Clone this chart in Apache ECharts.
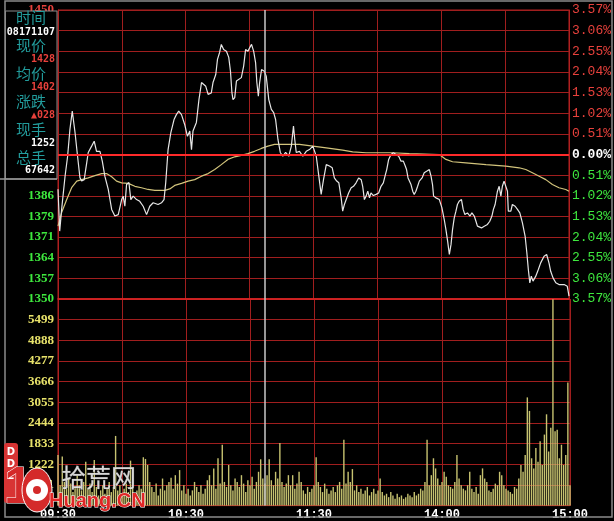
<!DOCTYPE html>
<html><head><meta charset="utf-8">
<script src="https://cdn.jsdelivr.net/npm/echarts@6/dist/echarts.min.js"></script>
<style>html,body{margin:0;padding:0;background:#000;}#c{width:614px;height:521px;}</style>
</head><body><div id="c"></div>
<script>
// ---- data ----
const prevClose = 1400;
const priceMin = 1350, priceMax = 1450;
const volMax = 6110, volStep = 611;
const cursorMinute = 97; // 11:07
const timeTickPos = [0, 60, 120, 180, 240];
const timeTickLabel = ['09:30', '10:30', '11:30', '14:00', '15:00'];
const infoLabels = ['时间', '现价', '均价', '涨跌', '现手', '总手'];
const infoValues = ['08171107', '1428', '1402', '▲028', '1252', '67642'];

// [minute since 09:30 (trading minutes), price]
const pricePoints = [[0,1388],[0.8,1373.5],[1.7,1381],[3.3,1392.4],[4.5,1399.3],[5.6,1408.7],[6.7,1415],[8,1407.6],[9.2,1399.3],[10.3,1392],[11.1,1390.8],[12.3,1391.3],[13.5,1397.2],[14.2,1400.7],[15.8,1402.9],[17,1404.6],[18.1,1401.1],[19.7,1401.1],[20.8,1397.7],[22,1392.5],[23.6,1387.9],[25.2,1381],[26.7,1378.7],[28.3,1379.2],[29.9,1384.4],[30.6,1385.6],[31.4,1382.1],[32.2,1389.6],[33.3,1390.3],[34.2,1384.4],[35.3,1385.6],[36.9,1384.4],[38.4,1383.8],[40,1382.1],[41.6,1379.2],[43.1,1382.1],[44.7,1383.3],[47,1382.7],[48.6,1383.3],[49.8,1384.4],[50.6,1390.3],[51.7,1401.7],[53,1407.6],[54.5,1412.1],[55.6,1413.8],[56.7,1415],[58,1413.8],[59.5,1410.4],[60.8,1406.3],[61.9,1408.1],[62.7,1401.7],[63.4,1408.1],[65,1411.1],[66.2,1419],[67.4,1424.9],[68.1,1425.4],[69.4,1423.6],[70.5,1420.8],[71.3,1420.2],[72,1421.3],[72.8,1424.9],[74.1,1427.7],[74.9,1432.9],[75.9,1435.3],[76.7,1438.1],[77.8,1436.3],[79.1,1435.7],[80.2,1433.6],[81,1428.8],[81.7,1421.3],[82.2,1419],[83,1419.7],[83.8,1425.4],[84.5,1426],[86.1,1426.6],[87.2,1430.6],[88.1,1436.3],[89.2,1435.7],[90,1436.9],[90.9,1438.1],[91.9,1435.7],[92.8,1431.8],[93.4,1424.9],[94.1,1420.2],[94.7,1424.9],[95.6,1429.4],[96.9,1428.8],[97.8,1427.1],[99,1419],[100.2,1415.6],[101.3,1414.5],[102.2,1412.1],[103.3,1405.2],[104.4,1400.7],[105.6,1399.4],[106.9,1400.7],[108.4,1399.4],[109.6,1402.9],[110.6,1409.8],[111.2,1405.2],[111.9,1400.7],[113.4,1401.1],[115,1399.4],[116.6,1401.1],[118.1,1401.7],[119.7,1402.9],[120.5,1402.9],[121.3,1399.4],[122.5,1392.5],[123.6,1386.2],[124.7,1391.3],[126,1396.5],[127.5,1396],[128.8,1395.4],[129.8,1391.9],[130.9,1390.8],[131.9,1390.2],[133,1385],[133.7,1380.4],[134.5,1382.7],[135.3,1382.1],[136.5,1386.7],[137.7,1388.5],[138.8,1389],[140,1390.2],[141.2,1391.9],[142.4,1391.3],[143.1,1389],[143.9,1384.4],[144.7,1385.6],[145.5,1387.3],[146.3,1385],[147,1386.7],[148.1,1385.8],[149.4,1386.2],[150.6,1386.7],[151.7,1389],[152.8,1390.2],[153.8,1393.1],[154.4,1394.8],[155.3,1398.3],[156.4,1400],[157.5,1400.6],[158.8,1400],[160,1399.4],[161.1,1397.7],[162.2,1397.7],[163.1,1396],[163.7,1394.8],[164.4,1391.9],[165,1391.3],[165.8,1389.6],[166.6,1387.3],[167.3,1386.2],[168.1,1387.3],[168.9,1389],[169.7,1390.8],[171,1391.9],[172,1393.7],[173.1,1394.2],[174.4,1394.8],[175.2,1392.5],[175.9,1389.6],[176.4,1385.6],[176.7,1386.2],[177.5,1385],[178.3,1385.6],[179.1,1384.4],[180.3,1381.6],[181.4,1377.5],[182.2,1374],[183,1370],[183.8,1365.4],[184.6,1368.9],[185.3,1374],[186.1,1378.1],[186.9,1380.4],[187.6,1382.7],[188.4,1383.8],[189.5,1384.4],[190.3,1381],[191.1,1379.2],[192.3,1379.8],[193.5,1378.7],[194.4,1379.8],[195.5,1378.7],[196.3,1376.9],[197,1375.2],[197.8,1375.8],[198.9,1374.6],[200.2,1375.2],[201.7,1375.8],[202.8,1376.9],[203.8,1378.7],[204.5,1381],[205.3,1382.7],[206.4,1387.3],[207.2,1389],[208,1385.6],[208.7,1389],[209.5,1390.8],[210.3,1390.2],[211.1,1387.3],[211.5,1380.4],[212.7,1380.4],[213.4,1382.7],[214.7,1382.1],[215.8,1381],[216.9,1379.8],[218.1,1376.4],[219.4,1371.7],[220.2,1366],[220.9,1360.2],[221.6,1355.6],[222.3,1357.9],[223.1,1356.2],[224.4,1357.9],[225.6,1360.2],[226.7,1362.5],[228.3,1364.8],[229.5,1365.4],[230.6,1362.5],[231.4,1359.6],[232.5,1357.3],[233.8,1355.6],[235.3,1355],[237.7,1355],[239.2,1354.4],[240,1351]];

// [minute, average price]
const avgPoints = [[0,1375.2],[1.7,1379.9],[4.1,1384.4],[6.4,1388.5],[8.8,1390.8],[11.1,1391.3],[14.2,1391.9],[17.3,1392.7],[20.5,1393.4],[22.8,1393.4],[25.2,1392.3],[27.5,1390.8],[29.9,1390.2],[33,1390],[36.1,1389],[39.2,1388.5],[42.3,1387.9],[45.5,1387.6],[50.2,1387.6],[52.5,1388.1],[54.8,1389.3],[58,1390],[61.1,1390.8],[64.2,1391.3],[67.4,1392.5],[70.5,1393.4],[73.6,1394.8],[76.7,1396.5],[79.8,1398.3],[83,1399.2],[86.1,1399.7],[89.2,1400.3],[92.3,1401.1],[95.5,1402.1],[98.6,1402.9],[101.7,1403.5],[108,1403.5],[113.4,1403.5],[119.7,1402.9],[126,1402.3],[133.7,1401.5],[138.4,1400.9],[144.7,1400.6],[157.2,1400.6],[165,1400.3],[179.1,1400],[182.2,1398.3],[185.3,1397.5],[191.6,1397.1],[201,1396.5],[210.3,1396],[216.6,1395.4],[219.7,1394.8],[222.8,1393.7],[226,1392.5],[229.1,1391.3],[232.2,1389.6],[235.3,1388.5],[238.5,1387.9],[240,1387.3]];

// volume per minute, index 0..240
const volume = [
1500,600,1450,700,500,800,650,400,550,900,
600,450,700,1300,500,650,400,1350,550,300,
450,600,350,500,700,400,550,2060,450,600,
350,500,650,400,1330,550,300,450,600,500,
1430,1380,1200,700,550,400,650,300,500,800,
450,600,700,820,500,900,650,1050,450,600,
350,500,300,450,700,550,400,600,350,500,
750,900,600,1100,500,1400,650,1800,700,550,
1200,600,450,800,700,550,900,650,400,750,
600,850,500,700,1000,1370,800,650,900,1370,
750,600,1000,800,1850,700,550,650,900,600,
900,500,650,1000,700,450,350,550,400,500,
600,1430,700,550,400,650,500,350,450,550,
400,600,700,500,1950,650,1000,700,1080,450,
600,400,500,350,450,550,300,400,500,350,
450,800,400,300,350,250,400,300,200,350,
250,300,200,250,350,300,250,400,300,350,
500,450,700,1950,600,900,1400,1100,800,600,
700,1000,850,600,550,500,700,1500,800,600,
500,450,600,1000,500,400,550,350,900,1100,
800,700,450,400,500,650,600,1000,900,600,
500,450,400,350,550,500,800,1200,1000,1500,
3200,2800,1400,1100,1700,1300,1900,1200,2100,2700,
1600,2300,6100,2200,2240,1400,1800,1200,1500,3640,
600];

// ---- chart ----
const gridCol = '#a01e1e';
const numFont = '"Liberation Serif"';
const upCol = '#e8413c', dnCol = '#3ee83e', zeroCol = '#ffffff';
function lvl(v) { const d = v - prevClose; return d > 1e-6 ? 'u' : (d < -1e-6 ? 'd' : 'z'); }
const richL = {
  u: {color: upCol, fontFamily: numFont, fontWeight: 'bold', fontSize: 13},
  d: {color: dnCol, fontFamily: numFont, fontWeight: 'bold', fontSize: 13},
  z: {color: zeroCol, fontFamily: numFont, fontWeight: 'bold', fontSize: 13}
};
const richR = {
  u: {color: upCol, fontFamily: '"Liberation Mono"', fontSize: 13},
  d: {color: dnCol, fontFamily: '"Liberation Mono"', fontSize: 13},
  z: {color: zeroCol, fontFamily: '"Liberation Mono"', fontSize: 13, fontWeight: 'bold'}
};

const chart = echarts.init(document.getElementById('c'), null, {renderer: 'canvas'});

const graphics = [];
// outer frame
graphics.push({type: 'rect', z: 100, shape: {x: 5, y: 1, width: 607, height: 516}, style: {fill: 'none', stroke: '#8a8a8a', lineWidth: 1.5}, silent: true});
// info panel
graphics.push({type: 'rect', z: 100, shape: {x: 5.5, y: 11, width: 51.5, height: 168}, style: {fill: '#000', stroke: '#8a8a8a', lineWidth: 1}, silent: true});
graphics.push({type: 'line', z: 101, shape: {x1: 0, y1: 179, x2: 57, y2: 179}, style: {stroke: '#9a9a9a', lineWidth: 1.5}, silent: true});
const labelY = [17, 45, 73, 101, 129, 157];
const valueY = [32, 59, 87, 115, 143, 170];
const valueCol = ['#ffffff', '#e8413c', '#e8413c', '#e8413c', '#ffffff', '#ffffff'];
infoLabels.forEach((t, i) => {
  graphics.push({type: 'text', z: 102, x: 31, y: labelY[i], style: {text: t, fill: '#229c9c', font: '15px "Noto Sans CJK SC"', align: 'center', verticalAlign: 'middle'}, silent: true});
  graphics.push({type: 'text', z: 102, x: 55, y: valueY[i], style: {text: infoValues[i], fill: valueCol[i], font: 'bold 10px "DejaVu Sans Mono"', align: 'right', verticalAlign: 'middle'}, silent: true});
});
// DDE tag
graphics.push({type: 'rect', z: 100, shape: {x: 4, y: 443, width: 14, height: 60, r: 3}, style: {fill: '#d83434'}, silent: true});
['D', 'D', 'E'].forEach((t, i) => {
  graphics.push({type: 'text', z: 101, x: 11, y: 452 + i * 12, style: {text: t, fill: '#ffffff', font: 'bold 10px "DejaVu Sans"', align: 'center', verticalAlign: 'middle'}, silent: true});
});
// watermark logo
graphics.push({type: 'text', z: 110, x: 4, y: 463, style: {text: '1', fill: '#d42a2a', stroke: '#ffffff', lineWidth: 1, font: 'bold 52px "Liberation Sans"'}, silent: true});
graphics.push({type: 'ellipse', z: 110, shape: {cx: 37, cy: 490, rx: 15, ry: 22}, style: {fill: '#d42a2a', stroke: '#ffffff', lineWidth: 1}, silent: true});
graphics.push({type: 'circle', z: 111, shape: {cx: 37, cy: 490, r: 11}, style: {fill: '#ffffff'}, silent: true});
graphics.push({type: 'circle', z: 112, shape: {cx: 37, cy: 490, r: 4}, style: {fill: '#d42a2a'}, silent: true});
graphics.push({type: 'text', z: 110, x: 61, y: 465, style: {text: '拾荒网', fill: 'rgba(232,232,232,0.92)', stroke: '#555', lineWidth: 0.5, font: '25px "Noto Sans CJK SC"'}, silent: true});
graphics.push({type: 'text', z: 110, x: 49, y: 491, style: {text: 'Huang.CN', fill: '#e02626', stroke: '#ffffff', lineWidth: 1, font: 'bold 20px "Liberation Sans"'}, silent: true});

const option = {
  backgroundColor: '#000',
  animation: false,
  grid: [
    {left: 58, right: 44, top: 10, height: 289, show: true, borderColor: '#b02020', borderWidth: 1},
    {left: 58, right: 44, top: 299, height: 206.6, show: true, borderColor: '#b02020', borderWidth: 1}
  ],
  xAxis: [
    {type: 'value', gridIndex: 0, min: 0, max: 240, interval: 30,
     axisLine: {show: true, lineStyle: {color: '#e02424', width: 1.5}}, axisTick: {show: false}, axisLabel: {show: false},
     splitLine: {show: true, lineStyle: {color: gridCol, width: 1}}},
    {type: 'value', gridIndex: 1, min: 0, max: 240, interval: 30,
     axisLine: {show: true, lineStyle: {color: '#b02020'}}, axisTick: {show: false},
     axisLabel: {color: '#ffffff', fontFamily: '"Liberation Mono"', fontWeight: 'bold', fontSize: 12, margin: 3,
       showMinLabel: true, showMaxLabel: true,
       formatter: v => { const i = timeTickPos.indexOf(Math.round(v)); return i >= 0 ? timeTickLabel[i] : ''; }},
     splitLine: {show: true, lineStyle: {color: gridCol, width: 1}}}
  ],
  yAxis: [
    {type: 'value', gridIndex: 0, position: 'left', min: priceMin, max: priceMax, interval: (priceMax - priceMin) / 14,
     axisLine: {show: true, lineStyle: {color: '#b02020'}}, axisTick: {show: false},
     splitLine: {show: true, lineStyle: {color: gridCol, width: 1}},
     axisLabel: {margin: 4, formatter: v => { const r = Math.round(v); return '{' + lvl(v) + '|' + r + '}'; }, rich: richL}},
    {type: 'value', gridIndex: 0, position: 'right', min: priceMin, max: priceMax, interval: (priceMax - priceMin) / 14,
     axisLine: {show: true, lineStyle: {color: '#b02020'}}, axisTick: {show: false}, splitLine: {show: false},
     axisLabel: {margin: 3, formatter: v => { const p = Math.abs((v - prevClose) / prevClose * 100).toFixed(2) + '%'; return '{' + lvl(v) + '|' + p + '}'; }, rich: richR}},
    {type: 'value', gridIndex: 1, position: 'left', min: 0, max: volMax, interval: volStep,
     axisLine: {show: true, lineStyle: {color: '#b02020'}}, axisTick: {show: false},
     splitLine: {show: true, lineStyle: {color: gridCol, width: 1}},
     axisLabel: {margin: 4, showMinLabel: false, showMaxLabel: false, color: '#e8e26a', fontFamily: numFont, fontWeight: 'bold', fontSize: 13,
       formatter: v => String(Math.round(v))}}
  ],
  series: [
    {type: 'bar', xAxisIndex: 1, yAxisIndex: 2, barWidth: 1.4, data: volume.map((v, i) => [i, v]),
     itemStyle: {color: '#c6c270'}, silent: true,
     markLine: {symbol: ['none', 'none'], silent: true, label: {show: false},
       data: [{xAxis: cursorMinute, lineStyle: {color: '#c8c8c8', width: 1.5, type: 'solid'}}]}},
    {type: 'line', xAxisIndex: 0, yAxisIndex: 0, data: avgPoints, showSymbol: false, silent: true,
     lineStyle: {color: '#d2c47c', width: 1.2}},
    {type: 'line', xAxisIndex: 0, yAxisIndex: 0, data: pricePoints, showSymbol: false, silent: true,
     lineStyle: {color: '#e6e6e6', width: 1.2},
     markLine: {symbol: ['none', 'none'], silent: true, label: {show: false},
       data: [
         {yAxis: prevClose, lineStyle: {color: '#ff2a2a', width: 2, type: 'solid'}},
         {xAxis: cursorMinute, lineStyle: {color: '#c8c8c8', width: 1.5, type: 'solid'}}
       ]}}
  ],
  graphic: graphics
};
chart.setOption(option);
</script>
</body></html>
